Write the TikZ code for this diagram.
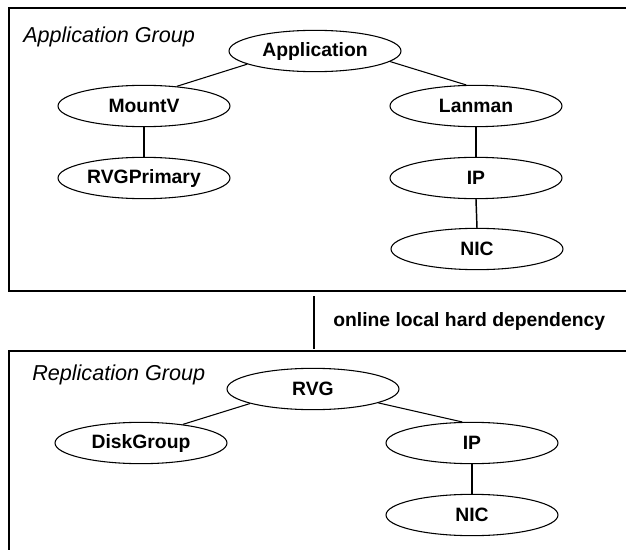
\documentclass[tikz,border=0pt]{standalone}
\usepackage{fontspec}
\setmainfont{Liberation Sans}
\usetikzlibrary{shapes.geometric}
\tikzset{
  res/.style={ellipse, draw, line width=0.8pt, inner sep=0pt, minimum width=129pt,
    minimum height=31pt, font=\fontsize{14.5}{17}\selectfont\bfseries},
  grouplabel/.style={anchor=base west, inner sep=0pt, font=\fontsize{16.2}{19}\selectfont\itshape},
  link/.style={line width=0.8pt},
  uplink/.style={line width=1.1pt}
}
\begin{document}
\begin{tikzpicture}[x=0.75pt,y=-0.75pt]
            \useasboundingbox (0,0) rectangle (626,550);
            \clip (0,0) rectangle (626,550);
            % groups
            \draw [line width=1.6pt] (9,8) rectangle (660,291);
            \draw [line width=1.6pt] (9,351) rectangle (660,600);
            \node [grouplabel] (appgrp) at (23,42) {Application Group};
            \node [grouplabel] (repgrp) at (32,380) {Replication Group};
            % application group
            \node [res] (app) at (315,51) {Application};
            \node [res] (mountv) at (144,106) {MountV};
            \node [res] (rvgpri) at (144,178) {RVGPrimary};
            \node [res] (lanman) at (476,106) {Lanman};
            \node [res] (ip) at (476,178) {IP};
            \node [res] (nic) at (477,249) {NIC};
            \draw [link] (app.191) -- (mountv.31);
            \draw [link] (app.352) -- (lanman.115);
            \draw [uplink] (mountv.south) -- (rvgpri.north);
            \draw [uplink] (lanman.south) -- (ip.north);
            \draw [uplink] (ip.south) -- (nic.north);
            % replication group
            \node [res] (rvg) at (313,389) {RVG};
            \node [res] (dg) at (141,443) {DiskGroup};
            \node [res] (repip) at (472,443) {IP};
            \node [res] (repnic) at (472,515) {NIC};
            \draw [link] (rvg.193) -- (dg.24);
            \draw [link] (rvg.348) -- (repip.115);
            \draw [uplink] (repip.south) -- (repnic.north);
            % dependency between the groups
            \coordinate (deptop) at (314,296);
            \coordinate (depbot) at (314,349);
            \draw [line width=1.5pt] (deptop) -- (depbot);
            \node [anchor=base west, inner sep=0pt, font=\fontsize{14.5}{17}\selectfont\bfseries] (deplabel) at (333,326) {online local hard dependency};
        \end{tikzpicture}
\end{document}
